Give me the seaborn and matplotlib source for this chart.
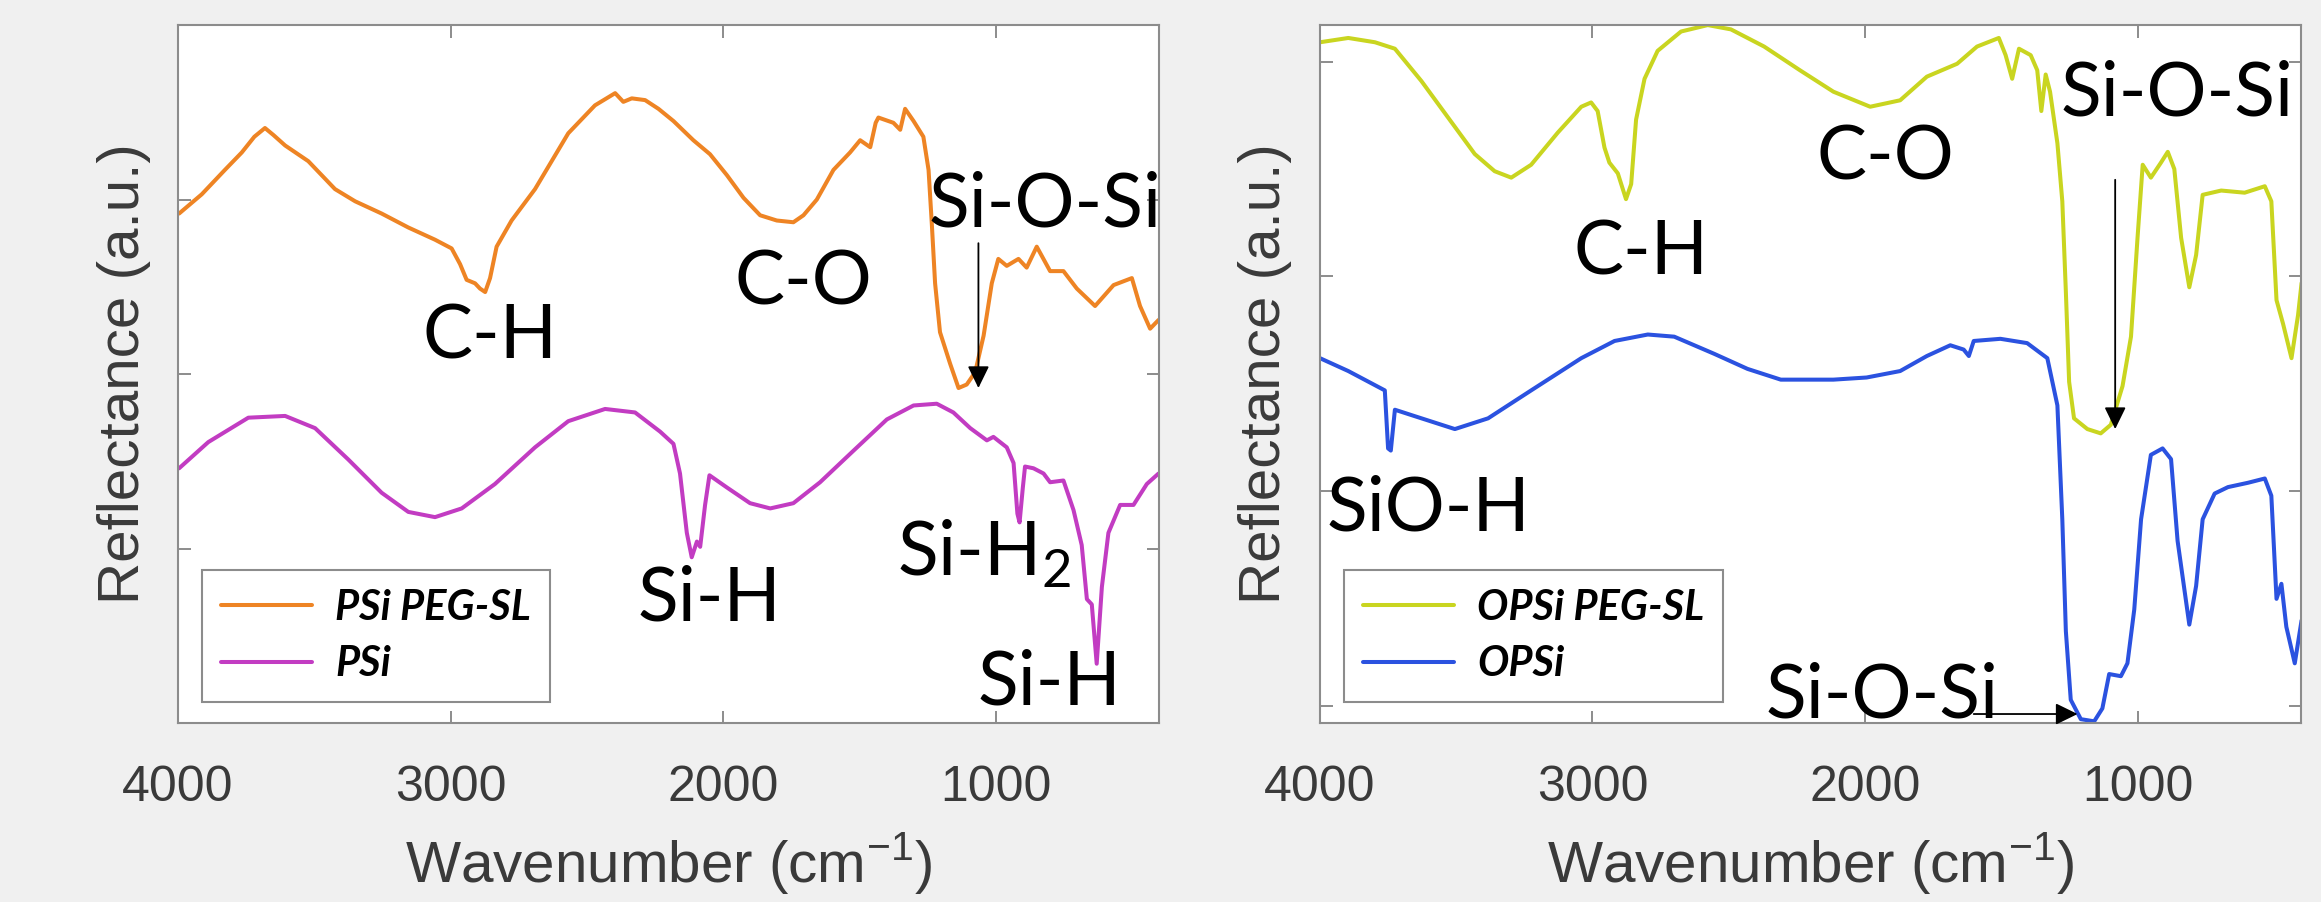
import pandas as pd
import matplotlib.pyplot as plt
import seaborn as sns

# left panel: PSi samples
wn_psi_peg = [3996, 3913, 3828, 3766, 3720, 3681, 3650, 3607, 3522, 3424, 3350, 3253, 3155, 3057,
              2996, 2965, 2941, 2910, 2892, 2873, 2855, 2831, 2776, 2690, 2568, 2470, 2396, 2366,
              2335, 2286, 2237, 2182, 2109, 2048, 1986, 1925, 1864, 1803, 1742, 1705, 1656, 1595,
              1534, 1497, 1460, 1440, 1430, 1375, 1350, 1332, 1301, 1265, 1246, 1234, 1222, 1204,
              1167, 1136, 1106, 1075, 1044, 1014, 990, 959, 916, 886, 849, 800, 751, 702, 635, 567,
              500, 470, 433, 402]
r_psi_peg = [2.92, 3.03, 3.17, 3.27, 3.36, 3.41, 3.37, 3.31, 3.22, 3.06, 2.99, 2.92, 2.84, 2.77,
             2.72, 2.63, 2.54, 2.52, 2.49, 2.47, 2.55, 2.73, 2.88, 3.06, 3.38, 3.54, 3.61, 3.56,
             3.58, 3.57, 3.52, 3.45, 3.34, 3.26, 3.14, 3.01, 2.91, 2.88, 2.87, 2.91, 3.00, 3.17,
             3.27, 3.34, 3.30, 3.44, 3.47, 3.44, 3.40, 3.52, 3.45, 3.36, 3.17, 2.86, 2.52, 2.24,
             2.06, 1.92, 1.94, 2.01, 2.22, 2.52, 2.66, 2.62, 2.66, 2.61, 2.73, 2.59, 2.59, 2.49, 2.39, 2.51,
             2.55, 2.39, 2.26, 2.31]

wn_psi = [3996, 3889, 3742, 3607, 3497, 3375, 3253, 3155, 3057, 2959, 2837, 2690, 2568, 2433, 2323,
          2231, 2182, 2158, 2133, 2115, 2096, 2084, 2066, 2050, 1986, 1901, 1827, 1742, 1644, 1522,
          1399, 1301, 1216, 1155, 1093, 1032, 1008, 959, 934, 920, 912, 900, 892, 861, 824, 800, 751,
          714, 684, 665, 647, 629, 610, 586, 543, 494, 445, 402]
r_psi = [1.46, 1.61, 1.75, 1.76, 1.69, 1.51, 1.32, 1.21, 1.18, 1.23, 1.37, 1.58, 1.73, 1.80, 1.78,
         1.67, 1.60, 1.43, 1.09, 0.95, 1.04, 1.01, 1.25, 1.42, 1.35, 1.26, 1.23, 1.26, 1.38, 1.56,
         1.74, 1.82, 1.83, 1.78, 1.69, 1.62, 1.64, 1.58, 1.49, 1.20, 1.15, 1.35, 1.47, 1.46, 1.43, 1.38, 1.39,
         1.22, 1.02, 0.71, 0.68, 0.34, 0.78, 1.09, 1.25, 1.25, 1.37, 1.43]

# right panel: OPSi samples
wn_opsi_peg = [4000, 3896, 3798, 3725, 3628, 3530, 3432, 3359, 3298, 3225, 3127, 3041, 3005, 2981,
               2956, 2938, 2907, 2877, 2858, 2840, 2809, 2761, 2675, 2577, 2492, 2370, 2239, 2116,
               1981, 1871, 1773, 1662, 1589, 1509, 1484, 1460, 1435, 1392, 1368, 1353, 1337, 1321,
               1294, 1276, 1263, 1251, 1233, 1184, 1135, 1098, 1055, 1024, 1000, 981, 951, 914, 889,
               865, 840, 810, 785, 761, 693, 607, 533, 509, 490, 466, 435, 411, 398]
r_opsi_peg = [3.09, 3.11, 3.09, 3.06, 2.91, 2.74, 2.57, 2.49, 2.46, 2.52, 2.67, 2.79, 2.81, 2.77,
              2.60, 2.53, 2.48, 2.36, 2.43, 2.73, 2.92, 3.05, 3.14, 3.17, 3.15, 3.07, 2.96, 2.86,
              2.79, 2.82, 2.93, 2.99, 3.07, 3.11, 3.03, 2.92, 3.06, 3.03, 2.96, 2.77, 2.94, 2.86,
              2.62, 2.35, 1.93, 1.51, 1.34, 1.29, 1.27, 1.31, 1.49, 1.72, 2.18, 2.52, 2.46, 2.53, 2.58,
              2.50, 2.18, 1.95, 2.10, 2.38, 2.40, 2.39, 2.42, 2.35, 1.89, 1.78, 1.62, 1.82, 1.97]

wn_opsi = [4000, 3896, 3762, 3750, 3740, 3725, 3652, 3505, 3383, 3225, 3041, 2919, 2797, 2700, 2553,
           2431, 2309, 2187, 2116, 1994, 1871, 1773, 1687, 1638, 1619, 1601, 1503, 1405, 1331, 1294,
           1276, 1263, 1245, 1208, 1159, 1129, 1104, 1061, 1037, 1012, 987, 951, 908, 877, 853, 810,
           785, 761, 717, 668, 595, 533, 509, 490, 472, 454, 423, 398]
r_opsi = [1.62, 1.56, 1.47, 1.20, 1.19, 1.38, 1.35, 1.29, 1.34, 1.47, 1.62, 1.70, 1.73, 1.72, 1.64,
          1.57, 1.52, 1.52, 1.52, 1.53, 1.56, 1.63, 1.68, 1.66, 1.63, 1.70, 1.71, 1.69, 1.62, 1.40,
          0.87, 0.35, 0.03, -0.06, -0.07, -0.01, 0.15, 0.14, 0.20, 0.45, 0.87, 1.17, 1.20, 1.15, 0.77, 0.38,
          0.56, 0.87, 0.99, 1.02, 1.04, 1.06, 0.98, 0.50, 0.57, 0.37, 0.20, 0.40]

xticks = [4000, 3000, 2000, 1000]

sns.set_theme(style="ticks")
plt.rcParams["font.family"] = ["Liberation Sans", "DejaVu Sans"]

fig = plt.figure(figsize=(23.21, 9.02), dpi=100, facecolor="#f0f0f0")
ax1 = fig.add_axes([0.0767, 0.1984, 0.4227, 0.7738])
ax2 = fig.add_axes([0.5687, 0.1984, 0.4227, 0.7738])

left = [(wn_psi_peg, r_psi_peg, "PSi PEG-SL", "#ee8424"),
        (wn_psi, r_psi, "PSi", "#c23cc2")]
right = [(wn_opsi_peg, r_opsi_peg, "OPSi PEG-SL", "#c9d520"),
         (wn_opsi, r_opsi, "OPSi", "#2b52e0")]

for ax, series in [(ax1, left), (ax2, right)]:
    for wn, r, name, col in series:
        df = pd.DataFrame({"wn": wn, "r": r})
        sns.lineplot(data=df, x="wn", y="r", ax=ax, color=col, lw=2.9,
                     label=name, estimator=None, sort=False)
    ax.set_facecolor("white")
    ax.set_xlim(4000, 400)
    ax.set_xticks(xticks)
    ax.set_xticklabels([str(t) for t in xticks])
    ax.tick_params(direction="in", length=9, width=1.4, color="#8c8c8c",
                   labelsize=36, labelcolor="#3a3a3a", top=True, right=True, pad=30)
    ax.tick_params(axis="y", labelleft=False)
    for s in ax.spines.values():
        s.set_color("#8c8c8c")
        s.set_linewidth(1.5)
    ax.set_xlabel("Wavenumber (cm$^{\\mathregular{-1}}$)", fontsize=42, color="#3a3a3a", labelpad=14)
    ax.set_ylabel("Reflectance (a.u.)", fontsize=42, color="#3a3a3a")
    ax.yaxis.set_label_coords(-0.028, 0.5)
    leg = ax.legend(loc="lower left", bbox_to_anchor=(0.0245, 0.03), borderaxespad=0,
                    fancybox=False, framealpha=1, edgecolor="#8c8c8c", handlelength=2.2,
                    handletextpad=0.55, labelspacing=0.45, borderpad=0.45,
                    prop={"family": "Lato", "weight": "bold", "style": "italic", "size": 30})
    leg.get_frame().set_linewidth(1.5)
    for t in leg.get_texts():
        t.set_color("black")

ax1.set_ylim(0, 4)
ax1.set_yticks([1, 2, 3])
ax2.set_ylim(-0.078, 3.17)
ax2.set_yticks([0, 1, 2, 3])

lab = dict(fontsize=54, family="Lato", color="black", ha="center", va="center")
arrow = dict(arrowstyle="-|>,head_length=0.45,head_width=0.22", color="black", lw=1.3,
             mutation_scale=30, shrinkA=0, shrinkB=0)

ax1.text(2855, 2.21, "C-H", **lab)
ax1.text(1705, 2.52, "C-O", **lab)
ax1.text(818, 2.97, "Si-O-Si", **lab)
ax1.annotate("", xy=(1063, 1.92), xytext=(1063, 2.75), arrowprops=arrow)
ax1.text(2051, 0.71, "Si-H", **lab)
ax1.text(1363, 0.97, "Si-H$_\\mathregular{2}$", fontsize=54, family="Lato", color="black",
         ha="left", va="center")
ax1.text(803, 0.23, "Si-H", **lab)

ax2.text(2822, 2.11, "C-H", **lab)
ax2.text(1926, 2.55, "C-O", **lab)
ax2.text(856, 2.85, "Si-O-Si", **lab)
ax2.annotate("", xy=(1082, 1.29), xytext=(1082, 2.45), arrowprops=arrow)
ax2.text(3603, 0.92, "SiO-H", **lab)
ax2.text(1938, 0.046, "Si-O-Si", **lab)
ax2.annotate("", xy=(1220, -0.036), xytext=(1601, -0.036), arrowprops=arrow)

fig.savefig("out.png", dpi=100, facecolor=fig.get_facecolor())
